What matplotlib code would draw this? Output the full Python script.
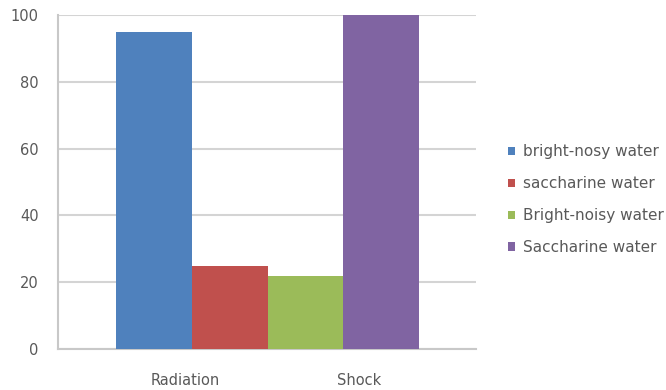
import matplotlib.pyplot as plt

# series values (one bar each)
series = ['bright-nosy water', 'saccharine water', 'Bright-noisy water', 'Saccharine water']
values = [95, 25, 22, 100]
colors = ['#4f81bd', '#c0504d', '#9bbb59', '#8064a2']

categories = ['Radiation', 'Shock']
bar_pos = [1.27, 2.27, 3.27, 4.27]
cat_pos = [1.68, 3.98]

fig = plt.figure(figsize=(6.66, 3.9), dpi=100)
ax = fig.add_axes([0.0871, 0.1051, 0.6276, 0.8564])

for x, v, c, name in zip(bar_pos, values, colors, series):
    ax.bar(x, v, width=1.0, color=c, label=name, zorder=3)

ax.set_xlim(0, 5.52)
ax.set_ylim(0, 100)
ax.set_yticks(range(0, 101, 20))
ax.set_xticks(cat_pos)
ax.set_xticklabels(categories)

ax.yaxis.grid(True, color='#d4d4d4', linewidth=1.5, zorder=0)
for s in ['top', 'right']:
    ax.spines[s].set_visible(False)
for s in ['left', 'bottom']:
    ax.spines[s].set_color('#c8c8c8')
    ax.spines[s].set_linewidth(1.5)
ax.tick_params(length=0, labelsize=10.5, colors='#595959')
ax.tick_params(axis='y', pad=14)
ax.tick_params(axis='x', pad=17)

fig.legend(loc='center left', bbox_to_anchor=(0.742, 0.488), frameon=False,
           fontsize=11, labelcolor='#595959', handlelength=0.45, handleheight=0.45,
           handletextpad=0.55, labelspacing=1.1)

fig.savefig('out.png', dpi=100)
